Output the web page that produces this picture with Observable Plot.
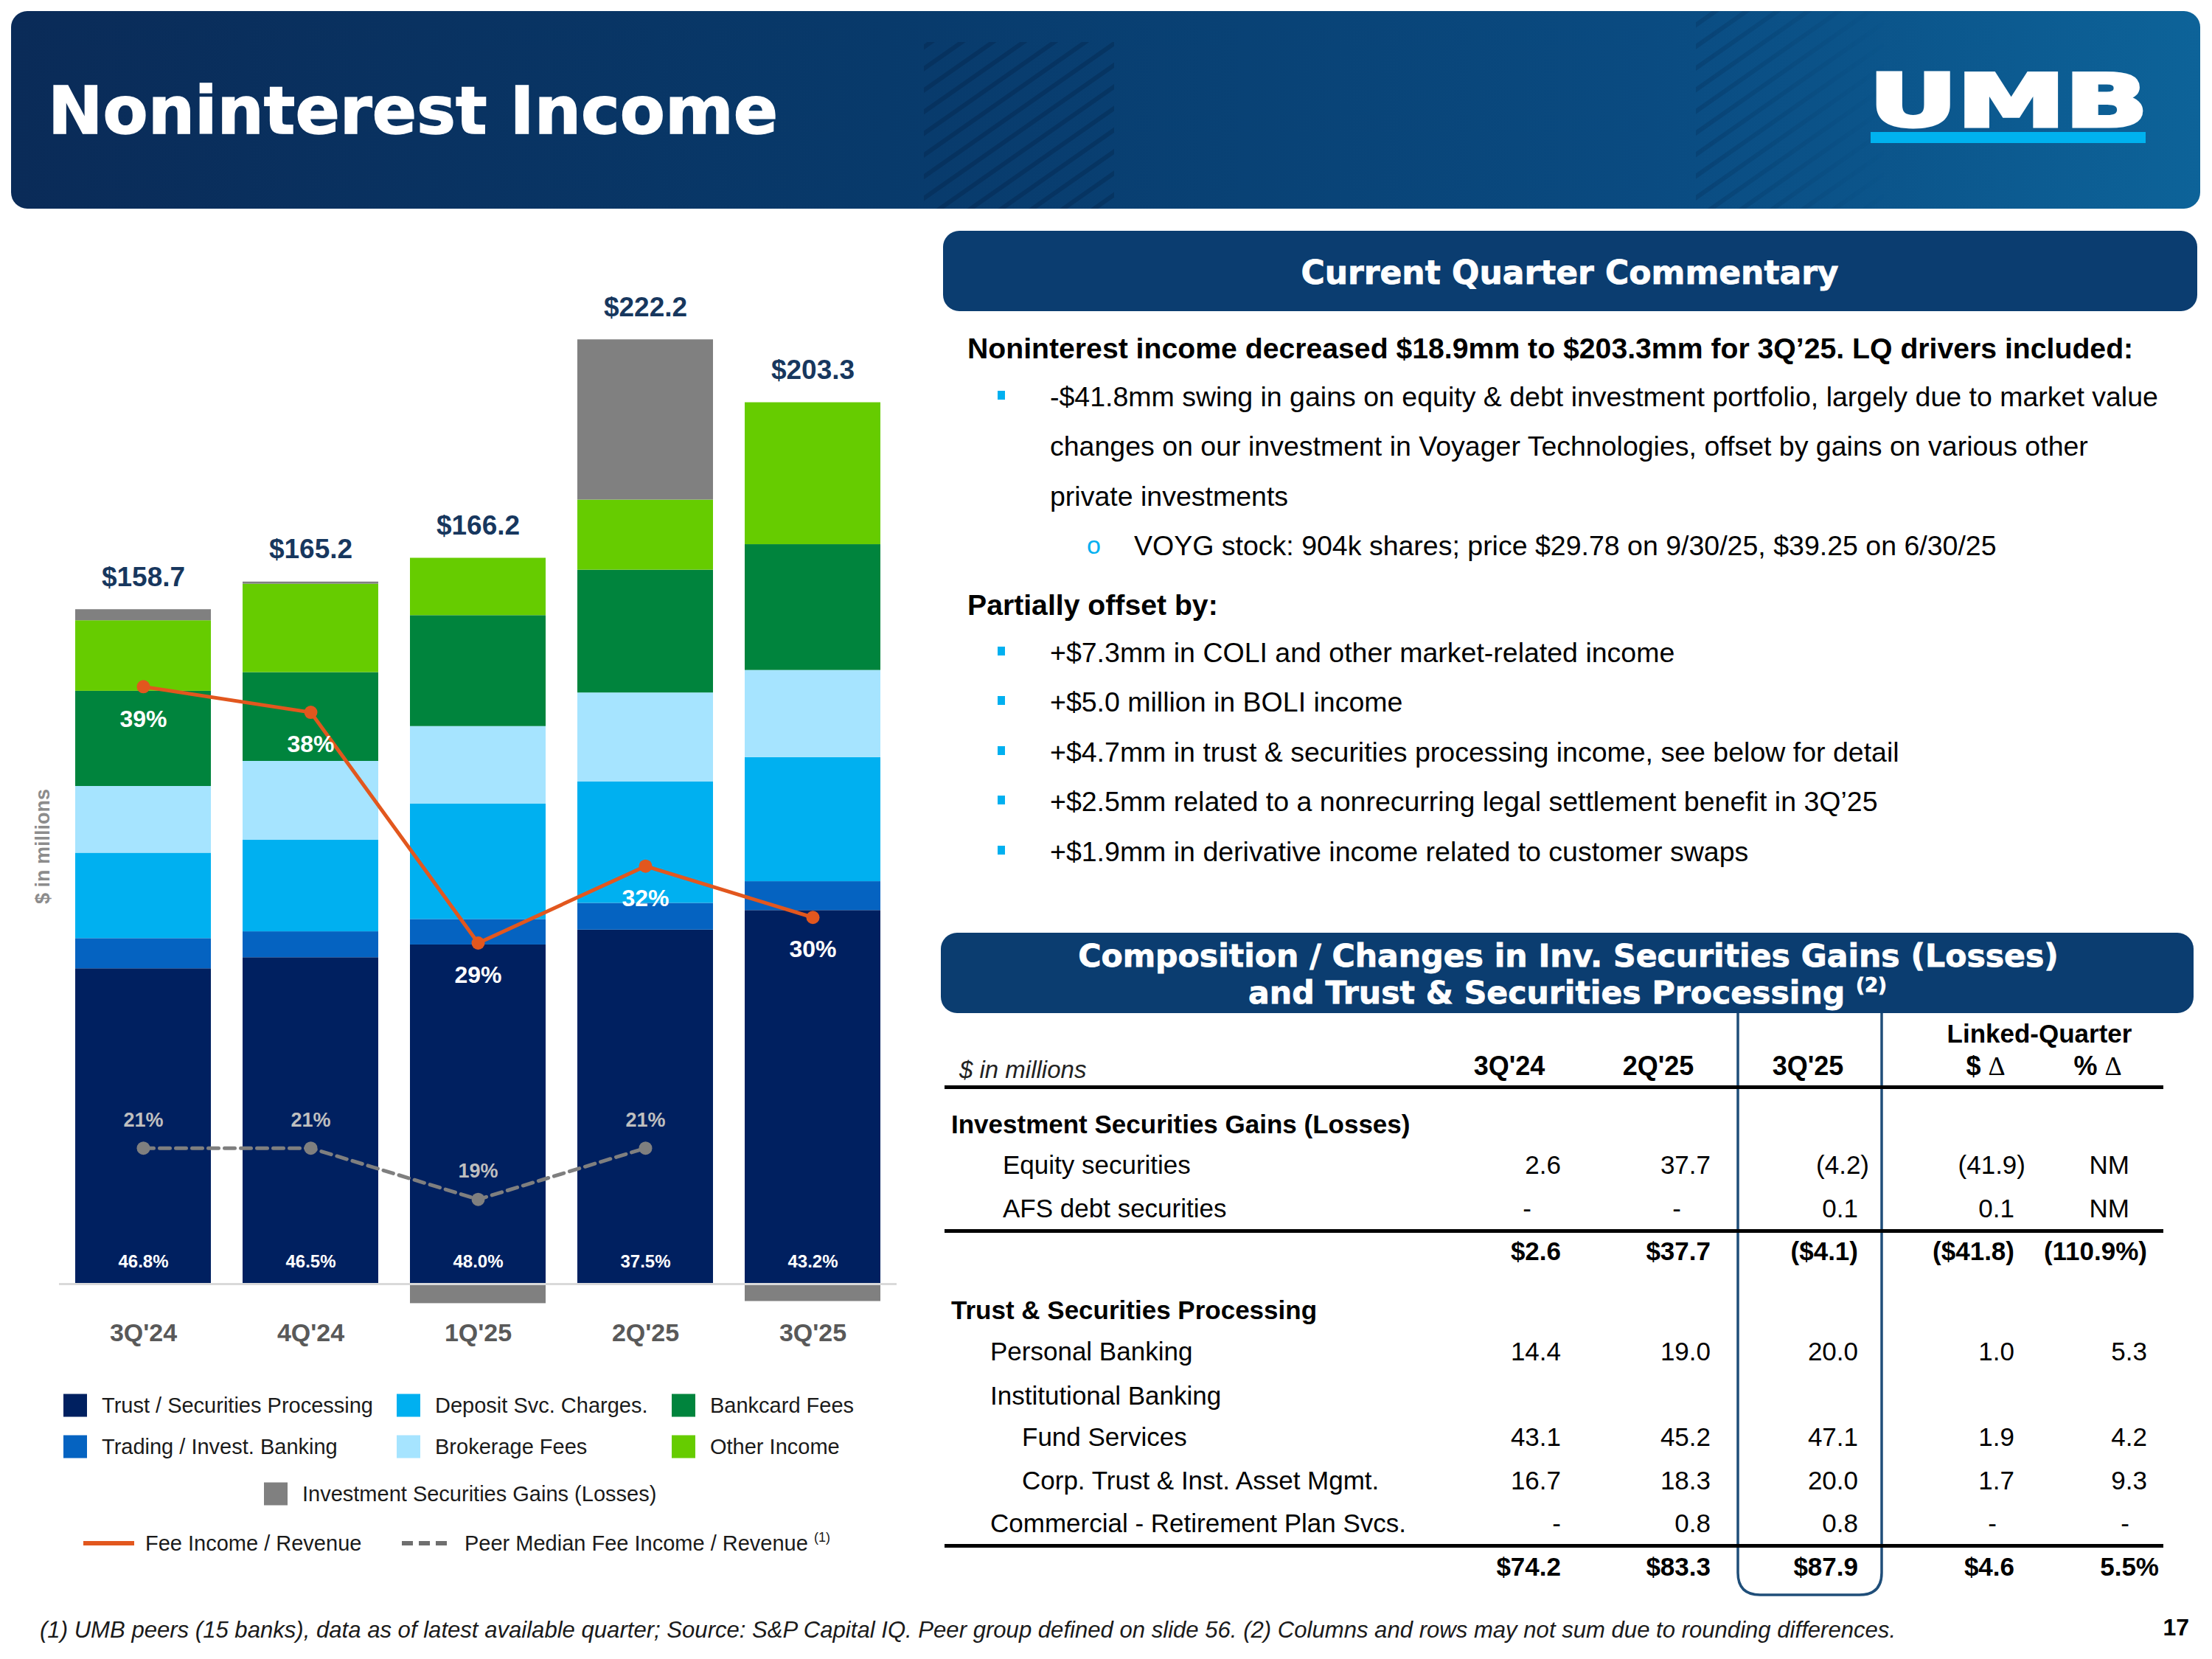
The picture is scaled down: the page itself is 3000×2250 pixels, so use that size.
<!DOCTYPE html>
<html>
<head>
<meta charset="utf-8">
<script src="https://cdn.jsdelivr.net/npm/d3@7"></script>
<script src="https://cdn.jsdelivr.net/npm/@observablehq/plot@0.6"></script>
<style>
  html, body { margin: 0; padding: 0; background: #fff; }
  #page { position: relative; width: 3000px; height: 2250px; overflow: hidden; }
  #deco { position: absolute; left: 0; top: 0; }
  #chart { position: absolute; left: 0; top: 330px; }
</style>
</head>
<body>
<div id="page">
  <svg id="deco" width="3000" height="2250"></svg>
  <div id="chart"></div>
</div>
<script>
// ---- Noninterest income by component, $ in millions ----
const quarters = ["3Q'24", "4Q'24", "1Q'25", "2Q'25", "3Q'25"];
const trustSecurities   = [74.2, 76.8, 79.8, 83.3, 87.9];
const tradingInvBanking = [7.1, 6.1, 6.0, 6.3, 6.8];
const depositSvcCharges = [20.1, 21.6, 27.2, 28.6, 29.2];
const brokerageFees     = [15.7, 18.5, 18.2, 20.9, 20.5];
const bankcardFees      = [22.4, 20.9, 26.1, 28.9, 29.6];
const otherIncome       = [16.6, 20.8, 13.5, 16.5, 33.4];
const invSecGains       = [2.6, 0.5, -4.6, 37.7, -4.1];

// ---- Fee income / revenue ratios, % ----
const feeIncomeRatio  = [39, 38, 29, 32, 30];
const peerMedianRatio = [21, 21, 19, 21, null];

const seriesNames = [
  "Trust / Securities Processing", "Trading / Invest. Banking", "Deposit Svc. Charges.",
  "Brokerage Fees", "Bankcard Fees", "Other Income", "Investment Securities Gains (Losses)"
];
const seriesColors = ["#002060", "#0563C1", "#00B0F0", "#A6E4FF", "#00843D", "#66CC00", "#808080"];
const seriesValues = [trustSecurities, tradingInvBanking, depositSvcCharges, brokerageFees, bankcardFees, otherIncome, invSecGains];

// ---- Table: inv. securities gains and trust & securities processing ----
const tableHeaders = ["3Q'24", "2Q'25", "3Q'25", "$", "%"];
const equitySecurities   = ["2.6", "37.7", "(4.2)", "(41.9)", "NM"];
const afsDebtSecurities  = ["-", "-", "0.1", "0.1", "NM"];
const invSecTotal        = ["$2.6", "$37.7", "($4.1)", "($41.8)", "(110.9%)"];
const personalBanking    = ["14.4", "19.0", "20.0", "1.0", "5.3"];
const fundServices       = ["43.1", "45.2", "47.1", "1.9", "4.2"];
const corpTrustAssetMgmt = ["16.7", "18.3", "20.0", "1.7", "9.3"];
const retirementPlanSvcs = ["-", "0.8", "0.8", "-", "-"];
const trustTotal         = ["$74.2", "$83.3", "$87.9", "$4.6", "5.5%"];

const commentaryLead = "Noninterest income decreased $18.9mm to $203.3mm for 3Q\u201925. LQ drivers included:";
const commentaryDrivers = [
  "-$41.8mm swing in gains on equity & debt investment portfolio, largely due to market value",
  "changes on our investment in Voyager Technologies, offset by gains on various other",
  "private investments"
];
const commentarySub = "VOYG stock: 904k shares; price $29.78 on 9/30/25, $39.25 on 6/30/25";
const offsetLead = "Partially offset by:";
const offsetDrivers = [
  "+$7.3mm in COLI and other market-related income",
  "+$5.0 million in BOLI income",
  "+$4.7mm in trust & securities processing income, see below for detail",
  "+$2.5mm related to a nonrecurring legal settlement benefit in 3Q\u201925",
  "+$1.9mm in derivative income related to customer swaps"
];
const footnote = "(1) UMB peers (15 banks), data as of latest available quarter; Source: S&P Capital IQ. Peer group defined on slide 56. (2) Columns and rows may not sum due to rounding differences.";

// ================= chart =================
const stacked = seriesNames.flatMap((s, i) =>
  quarters.map((q, j) => ({series: s, quarter: q, value: seriesValues[i][j]})));

const perQuarter = quarters.map((q, j) => {
  const vals = seriesValues.map(a => a[j]);
  const total = d3.sum(vals);
  return {
    quarter: q,
    total,
    positiveTop: d3.sum(vals.filter(v => v > 0)),
    trustShare: trustSecurities[j] / total * 100,
    fee: feeIncomeRatio[j],
    peer: peerMedianRatio[j]
  };
});
const peerRows = perQuarter.filter(d => d.peer != null);

// secondary (ratio) axis expressed on the $ scale
const ratioToY = d3.scaleLinear().domain([15.7, 50]).range([0, 206.9]);

const SANS = '"Liberation Sans", Arial, Helvetica, sans-serif';
const HEAVY = '"DejaVu Sans", "Liberation Sans", Arial, sans-serif';

const chart = Plot.plot({
  width: 1250,
  height: 1500,
  marginLeft: 80,
  marginRight: 34,
  marginTop: 0,
  marginBottom: 43,
  style: {fontFamily: SANS, fontSize: "34px", fontWeight: "bold", color: "#595959", background: "transparent", overflow: "visible"},
  x: {domain: quarters, paddingInner: 0.19, paddingOuter: 0.097, tickSize: 0, tickPadding: 7, label: null},
  y: {domain: [-8, 244.8], axis: null},
  color: {domain: seriesNames, range: seriesColors},
  marks: [
    Plot.barY(stacked, {x: "quarter", y: "value", fill: "series"}),
    Plot.ruleY([0], {stroke: "#d9d9d9", strokeWidth: 3}),
    Plot.text(perQuarter, {x: "quarter", y: "positiveTop", text: d => "$" + d.total.toFixed(1), dy: -44, fill: "#17375E", fontSize: 37, fontWeight: "bold"}),
    Plot.text(perQuarter, {x: "quarter", y: d => 0, text: d => d.trustShare.toFixed(1) + "%", dy: -30, fill: "#ffffff", fontSize: 24, fontWeight: "bold"}),
    Plot.lineY(peerRows, {x: "quarter", y: d => ratioToY(d.peer), stroke: "#7f7f7f", strokeWidth: 5, strokeDasharray: "14,8"}),
    Plot.dot(peerRows, {x: "quarter", y: d => ratioToY(d.peer), r: 9, fill: "#7f7f7f"}),
    Plot.text(peerRows, {x: "quarter", y: d => ratioToY(d.peer), text: d => d.peer + "%", dy: -38, fill: "#bfbfbf", fontSize: 27, fontWeight: "bold"}),
    Plot.lineY(perQuarter, {x: "quarter", y: d => ratioToY(d.fee), stroke: "#E2571E", strokeWidth: 5}),
    Plot.dot(perQuarter, {x: "quarter", y: d => ratioToY(d.fee), r: 9, fill: "#E2571E"}),
    Plot.text(perQuarter, {x: "quarter", y: d => ratioToY(d.fee), text: d => d.fee + "%", dy: 44, fill: "#ffffff", fontSize: 32, fontWeight: "bold"})
  ]
});
document.getElementById("chart").appendChild(chart);

// ================= slide furniture =================
const svg = d3.select("#deco");
const defs = svg.append("defs");
const grad = defs.append("linearGradient").attr("id", "hdrGrad").attr("x1", 0).attr("x2", 1).attr("y1", 0).attr("y2", 0);
[[0, "#0a2b58"], [0.4, "#083a6b"], [0.75, "#0a4b81"], [1, "#0d6399"]]
  .forEach(([o, c]) => grad.append("stop").attr("offset", o).attr("stop-color", c));
const pat = defs.append("pattern").attr("id", "stripes").attr("width", 24).attr("height", 24)
  .attr("patternUnits", "userSpaceOnUse").attr("patternTransform", "rotate(-35)");
pat.append("rect").attr("width", 24).attr("height", 6).attr("fill", "#001a3d").attr("opacity", 0.35);
const fade = defs.append("linearGradient").attr("id", "fadeMask").attr("x1", 0).attr("x2", 1);
fade.append("stop").attr("offset", 0).attr("stop-color", "#fff").attr("stop-opacity", 0.9);
fade.append("stop").attr("offset", 1).attr("stop-color", "#fff").attr("stop-opacity", 0);
defs.append("mask").attr("id", "stripeFade").append("rect")
  .attr("x", 2300).attr("y", 15).attr("width", 260).attr("height", 268).attr("fill", "url(#fadeMask)");

const mid = (y, size) => y + 0.36 * size;
function txt(x, y, s, o = {}) {
  const t = svg.append("text")
    .attr("x", x).attr("y", y)
    .attr("font-family", o.family || SANS)
    .attr("font-size", o.size || 35)
    .attr("font-weight", o.weight || "normal")
    .attr("fill", o.fill || "#000")
    .attr("text-anchor", o.anchor || "start")
    .text(s);
  if (o.italic) t.attr("font-style", "italic");
  return t;
}

// header banner
svg.append("rect").attr("x", 15).attr("y", 15).attr("width", 2969).attr("height", 268).attr("rx", 22).attr("fill", "url(#hdrGrad)");
svg.append("rect").attr("x", 1253).attr("y", 57).attr("width", 258).attr("height", 226).attr("fill", "url(#stripes)").attr("opacity", 0.8);
svg.append("rect").attr("x", 2300).attr("y", 15).attr("width", 260).attr("height", 268).attr("fill", "url(#stripes)").attr("mask", "url(#stripeFade)").attr("opacity", 0.6);
txt(65, 181, "Noninterest Income", {family: HEAVY, size: 89, weight: "bold", fill: "#ffffff"})
  .attr("stroke", "#ffffff").attr("stroke-width", 1.5);
txt(2535, 171, "UMB", {family: HEAVY, size: 98, weight: "bold", fill: "#ffffff"})
  .attr("textLength", 378).attr("lengthAdjust", "spacingAndGlyphs")
  .attr("stroke", "#ffffff").attr("stroke-width", 5).attr("stroke-linejoin", "miter");
svg.append("rect").attr("x", 2537).attr("y", 179).attr("width", 373).attr("height", 15).attr("fill", "#00B2EF");

// y-axis title of the chart
svg.append("text")
  .attr("transform", "translate(57,1148) rotate(-90)")
  .attr("dy", "0.36em")
  .attr("text-anchor", "middle")
  .attr("font-family", SANS).attr("font-size", 27).attr("font-weight", "bold")
  .attr("fill", "#8c8c8c")
  .text("$ in millions");

// commentary
svg.append("rect").attr("x", 1279).attr("y", 313).attr("width", 1701).attr("height", 109).attr("rx", 22).attr("fill", "#0b3d70");
txt(2129, mid(369, 44), "Current Quarter Commentary", {family: HEAVY, size: 44, weight: "bold", fill: "#ffffff", anchor: "middle"})
  .attr("stroke", "#ffffff").attr("stroke-width", 0.8);
txt(1312, mid(472, 39.2), commentaryLead, {size: 39.2, weight: "bold"});
const bullet = (y) => svg.append("rect").attr("x", 1353).attr("y", y - 7).attr("width", 10).attr("height", 12).attr("fill", "#00B0F0");
const driverY = [537, 604, 672];
commentaryDrivers.forEach((s, i) => {
  if (i === 0) bullet(driverY[i]);
  txt(1424, mid(driverY[i], 37.5), s, {size: 37.5});
});
txt(1474, mid(739, 34), "o", {size: 34, fill: "#00B0F0"});
txt(1538, mid(739, 37.5), commentarySub, {size: 37.5});
txt(1312, mid(820, 39.2), offsetLead, {size: 39.2, weight: "bold"});
const offsetY = [884, 951, 1019, 1086, 1154];
offsetDrivers.forEach((s, i) => {
  bullet(offsetY[i]);
  txt(1424, mid(offsetY[i], 37.5), s, {size: 37.5});
});

// table heading box
svg.append("rect").attr("x", 1276).attr("y", 1265).attr("width", 1699).attr("height", 109).attr("rx", 22).attr("fill", "#0b3d70");
txt(2127, mid(1296, 42.6), "Composition / Changes in Inv. Securities Gains (Losses)", {family: HEAVY, size: 42.6, weight: "bold", fill: "#ffffff", anchor: "middle"})
  .attr("stroke", "#ffffff").attr("stroke-width", 0.8);
const t2 = txt(2126, mid(1346, 42.6), "and Trust & Securities Processing ", {family: HEAVY, size: 42.6, weight: "bold", fill: "#ffffff", anchor: "middle"})
  .attr("stroke", "#ffffff").attr("stroke-width", 0.8);
t2.append("tspan").attr("font-size", 26).attr("dy", -16).text("(2)");

// table highlight frame around the current quarter
svg.append("path")
  .attr("d", "M2357,1374 L2357,2133 Q2357,2163 2387,2163 L2522,2163 Q2552,2163 2552,2133 L2552,1374")
  .attr("fill", "none").attr("stroke", "#1F4E79").attr("stroke-width", 3.5);

// table header
const colCenters = [2047, 2249, 2452, 2693, 2845];
const colRight = [2117, 2320, 2520, 2732, 2912];
txt(1301, mid(1450, 33), "$ in millions", {size: 33, italic: true, fill: "#222"});
txt(2766, mid(1401, 35), "Linked-Quarter", {size: 35, weight: "bold", anchor: "middle"});
tableHeaders.forEach((h, i) => {
  const t = txt(colCenters[i], mid(1445, 36), i < 3 ? h : h + " ", {size: 36, weight: "bold", anchor: "middle"});
  if (i >= 3) t.append("tspan").attr("font-family", '"Liberation Serif", "Times New Roman", serif').attr("font-weight", "normal").text("\u0394");
});
[1472, 1667, 2094].forEach(y => svg.append("rect").attr("x", 1281).attr("y", y).attr("width", 1653).attr("height", 5).attr("fill", "#000"));

const tableRows = [
  {label: "Investment Securities Gains (Losses)", kind: "section"},
  {label: "Equity securities", cells: equitySecurities, group: 1, lx: 1360},
  {label: "AFS debt securities", cells: afsDebtSecurities, group: 1, lx: 1360},
  {cells: invSecTotal, kind: "total"},
  {label: "Trust & Securities Processing", kind: "section"},
  {label: "Personal Banking", cells: personalBanking, group: 2, lx: 1343},
  {label: "Institutional Banking", group: 2, lx: 1343},
  {label: "Fund Services", cells: fundServices, group: 2, lx: 1386},
  {label: "Corp. Trust & Inst. Asset Mgmt.", cells: corpTrustAssetMgmt, group: 2, lx: 1386},
  {label: "Commercial - Retirement Plan Svcs.", cells: retirementPlanSvcs, group: 2, lx: 1343},
  {cells: trustTotal, kind: "total"}
];
const rowY = [1524, 1579, 1638, 1696, 1776, 1832, 1892, 1948, 2007, 2065, 2124];

function cellX(v, col, row) {
  const x = colRight[col];
  if (v === "-") return x + (row.group === 1 ? -40 : (col >= 3 ? -24 : 0));
  if (v === "NM") return x - 24;
  if (row.kind === "total") return v.endsWith("%") && !v.endsWith(")") ? x + 16 : x;
  if (v.endsWith(")")) return x + 15;
  return x;
}
tableRows.forEach((row, r) => {
  const y = rowY[r];
  const bold = row.kind === "section" || row.kind === "total";
  if (row.label) txt(row.kind === "section" ? 1290 : row.lx, mid(y, 35), row.label, {size: 35, weight: row.kind === "section" ? "bold" : "normal"});
  if (row.cells) row.cells.forEach((v, c) => {
    txt(cellX(v, c, row), mid(y, 35), v, {size: 35, weight: bold ? "bold" : "normal", anchor: "end"});
  });
});

// legend
const legendLayout = [
  {s: 0, x: 86, y: 1906}, {s: 2, x: 538, y: 1906}, {s: 4, x: 911, y: 1906},
  {s: 1, x: 86, y: 1962}, {s: 3, x: 538, y: 1962}, {s: 5, x: 911, y: 1962},
  {s: 6, x: 358, y: 2026}
];
legendLayout.forEach(({s, x, y}) => {
  svg.append("rect").attr("x", x).attr("y", y - 15.5).attr("width", 32).attr("height", 31).attr("fill", seriesColors[s]);
  txt(x + 52, mid(y, 29), seriesNames[s], {size: 29, fill: "#1a1a1a"});
});
svg.append("line").attr("x1", 113).attr("x2", 182).attr("y1", 2093).attr("y2", 2093).attr("stroke", "#E2571E").attr("stroke-width", 6);
txt(197, mid(2093, 29), "Fee Income / Revenue", {size: 29, fill: "#1a1a1a"});
svg.append("line").attr("x1", 545).attr("x2", 614).attr("y1", 2093).attr("y2", 2093).attr("stroke", "#6f6f6f").attr("stroke-width", 6).attr("stroke-dasharray", "15,8");
const pl = txt(630, mid(2093, 29), "Peer Median Fee Income / Revenue ", {size: 29, fill: "#1a1a1a"});
pl.append("tspan").attr("font-size", 18).attr("dy", -12).text("(1)");

// footnote and page number
txt(54, 2221, footnote, {size: 31.1, italic: true, fill: "#1a1a1a"});
txt(2969, 2218, "17", {size: 32, weight: "bold", anchor: "end"});
</script>
</body>
</html>
